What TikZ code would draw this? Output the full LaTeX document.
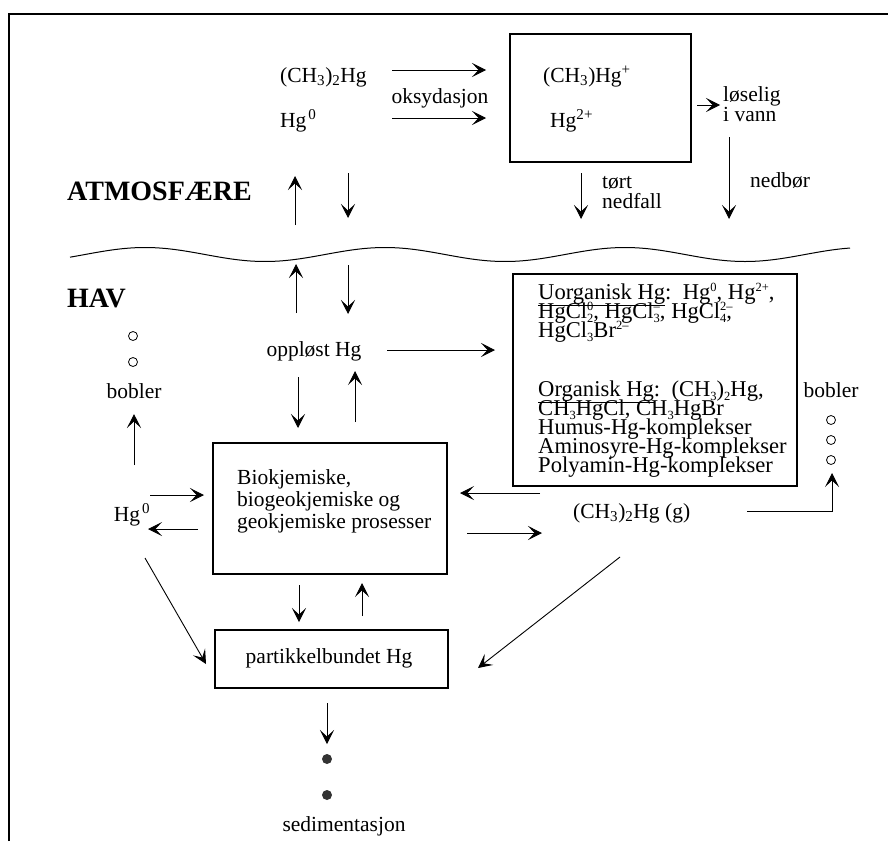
\documentclass[tikz,border=0pt]{standalone}
\usepackage{fontspec}
\setmainfont{Liberation Serif}
\usetikzlibrary{arrows.meta}
\newcommand\smsup[1]{\raisebox{8pt}{\fontsize{12.5}{12.5}\selectfont #1}}
\newcommand\smsub[1]{\raisebox{-4pt}{\fontsize{12.5}{12.5}\selectfont #1}}
\newcommand\supsb[2]{\rlap{\smsup{#1}}\smsub{#2}}
\newcommand\dn[1]{\textsubscript{#1}}
\newcommand\upx[1]{\textsuperscript{#1}}
\begin{document}
\begin{tikzpicture}[x=1pt,y=-1pt,
  arr/.style={-{Stealth[length=14pt,width=14pt,inset=6.5pt]}, line width=0.9pt},
  txt/.style={inner sep=0pt, font=\fontsize{21.5}{22}\selectfont},
  rtxt/.style={inner sep=0pt, font=\fontsize{22.6}{22}\selectfont, anchor=base west},
  boxn/.style={draw, line width=1.1pt, inner sep=0pt},
  big/.style={inner sep=0pt, anchor=base west, font=\fontsize{28}{30}\selectfont\bfseries},
  bubble/.style={circle, draw, line width=0.8pt, minimum size=9pt, inner sep=0pt},
  dot/.style={circle, fill=black!80, minimum size=10pt, inner sep=0pt}]
\useasboundingbox (0,0) rectangle (888,841);
\draw[line width=1.6pt] (9,841) -- (9,14) -- (888,14);

% ---------- atmosphere ----------
\node[txt, anchor=base west] (dmhg) at (280,82) {(CH\dn{3})\dn{2}Hg};
\node[txt, anchor=base west] (hg0a) at (280,127) {Hg\kern2pt\upx{0}};
\node[txt, anchor=base] (oks) at (440,103) {oksydasjon};
\coordinate (a1s) at (392,70); \coordinate (a1e) at (486,70);
\coordinate (a2s) at (392,118); \coordinate (a2e) at (486,118);
\draw[arr] (a1s) -- (a1e);
\draw[arr] (a2s) -- (a2e);

\node[boxn, minimum width=181pt, minimum height=128pt] (box1) at (600.5,98) {};
\node[txt, anchor=base west] (mhg) at (543,82) {(CH\dn{3})Hg\upx{+}};
\node[txt, anchor=base west] (hg2) at (550,127) {Hg\upx{2+}};

\coordinate (a3s) at (697,105); \coordinate (a3e) at (720,105);
\draw[arr] (a3s) -- (a3e);
\node[txt, anchor=base west] (los1) at (723,101) {løselig};
\node[txt, anchor=base west] (los2) at (723,121) {i vann};
\coordinate (a4s) at (729,137); \coordinate (a4e) at (729,219);
\draw[arr] (a4s) -- (a4e);
\node[txt, anchor=base west] (nedb) at (750,187) {nedbør};

\coordinate (a5s) at (581,173); \coordinate (a5e) at (581,219);
\draw[arr] (a5s) -- (a5e);
\node[txt, anchor=base west] (tort) at (602,188) {tørt};
\node[txt, anchor=base west] (nedf) at (602,208) {nedfall};

\node[big] (atm) at (67,200) {ATMOSFÆRE};
\coordinate (a6s) at (295,225); \coordinate (a6e) at (295,176);
\coordinate (a7s) at (348,173); \coordinate (a7e) at (348,218);
\draw[arr] (a6s) -- (a6e);
\draw[arr] (a7s) -- (a7e);

% ---------- sea surface ----------
\draw[line width=1pt] plot[domain=70:850, samples=120, smooth] (\x, {254.5 - 7*cos((\x-145)/240*360)});

\node[big] (hav) at (67,307) {HAV};
\coordinate (b1s) at (296,313); \coordinate (b1e) at (296,264);
\coordinate (b2s) at (348,265); \coordinate (b2e) at (348,314);
\draw[arr] (b1s) -- (b1e);
\draw[arr] (b2s) -- (b2e);

\node[txt, anchor=base] (opp) at (314,356) {oppløst Hg};
\coordinate (b3s) at (387,350); \coordinate (b3e) at (495,350);
\draw[arr] (b3s) -- (b3e);
\coordinate (b4s) at (298,377); \coordinate (b4e) at (298,428);
\coordinate (b5s) at (355,422); \coordinate (b5e) at (355,371);
\draw[arr] (b4s) -- (b4e);
\draw[arr] (b5s) -- (b5e);

% left bubbles
\node[bubble] (lc1) at (133,336) {};
\node[bubble] (lc2) at (133,362) {};
\node[txt, anchor=base] (lbob) at (134,398) {bobler};
\coordinate (c1s) at (134,465); \coordinate (c1e) at (134,414);
\draw[arr] (c1s) -- (c1e);
\node[txt, anchor=base] (hg0b) at (132,521) {Hg\kern2pt\upx{0}};
\coordinate (c2s) at (150,495); \coordinate (c2e) at (204,495);
\coordinate (c3s) at (198,529); \coordinate (c3e) at (148,529);
\draw[arr] (c2s) -- (c2e);
\draw[arr] (c3s) -- (c3e);

% bio box
\node[boxn, minimum width=234pt, minimum height=131pt] (bio) at (330,508.5) {};
\node[txt, anchor=base west] (bio1) at (237,484) {Biokjemiske,};
\node[txt, anchor=base west] (bio2) at (237,506) {biogeokjemiske og};
\node[txt, anchor=base west] (bio3) at (237,528) {geokjemiske prosesser};

% right box
\node[boxn, minimum width=284pt, minimum height=212pt] (rbox) at (655,380) {};
\node[rtxt] (r1) at (538,299) {\underline{Uorganisk Hg}:\ \ Hg\smsup{0}, Hg\smsup{2+},};
\node[rtxt] (r2) at (538,318) {HgCl\supsb{0}{2}, HgCl\supsb{--}{3}, HgCl\supsb{2--}{4},};
\node[rtxt] (r3) at (538,337) {HgCl\smsub{3}Br\smsup{2--}};
\node[rtxt] (r4) at (538,396) {\underline{Organisk Hg}:\ \ (CH\smsub{3})\smsub{2}Hg,};
\node[rtxt] (r5) at (538,415) {CH\smsub{3}HgCl, CH\smsub{3}HgBr};
\node[rtxt] (r6) at (538,434) {Humus-Hg-komplekser};
\node[rtxt] (r7) at (538,453) {Aminosyre-Hg-komplekser};
\node[rtxt] (r8) at (538,472) {Polyamin-Hg-komplekser};

% right bubbles
\node[txt, anchor=base] (rbob) at (831,397) {bobler};
\node[bubble] (rc1) at (831,420) {};
\node[bubble] (rc2) at (831,440) {};
\node[bubble] (rc3) at (831,460) {};

\node[txt, anchor=base west] (dmg) at (573,518) {(CH\dn{3})\dn{2}Hg (g)};
\coordinate (d1s) at (540,493); \coordinate (d1e) at (460,493);
\coordinate (d2s) at (467,533); \coordinate (d2e) at (542,533);
\draw[arr] (d1s) -- (d1e);
\draw[arr] (d2s) -- (d2e);
\coordinate (d3s) at (747,511); \coordinate (d3c) at (832,511); \coordinate (d3e) at (832,473);
\draw[arr] (d3s) -- (d3c) -- (d3e);

% diagonals
\coordinate (e1s) at (145,558); \coordinate (e1e) at (206,664);
\draw[arr] (e1s) -- (e1e);
\coordinate (e2s) at (620,557); \coordinate (e2e) at (478,668);
\draw[arr] (e2s) -- (e2e);

% between boxes
\coordinate (f1s) at (299,585); \coordinate (f1e) at (299,622);
\coordinate (f2s) at (362,616); \coordinate (f2e) at (362,583);
\draw[arr] (f1s) -- (f1e);
\draw[arr] (f2s) -- (f2e);

\node[boxn, minimum width=233pt, minimum height=58pt] (part) at (331.5,659) {};
\node[txt, anchor=base] (partt) at (329,663) {partikkelbundet Hg};

\coordinate (g1s) at (327,703); \coordinate (g1e) at (327,744);
\draw[arr] (g1s) -- (g1e);
\node[dot] (dt1) at (327,759) {};
\node[dot] (dt2) at (327,795) {};
\node[txt, anchor=base] (sed) at (344,831) {sedimentasjon};
\end{tikzpicture}
\end{document}
